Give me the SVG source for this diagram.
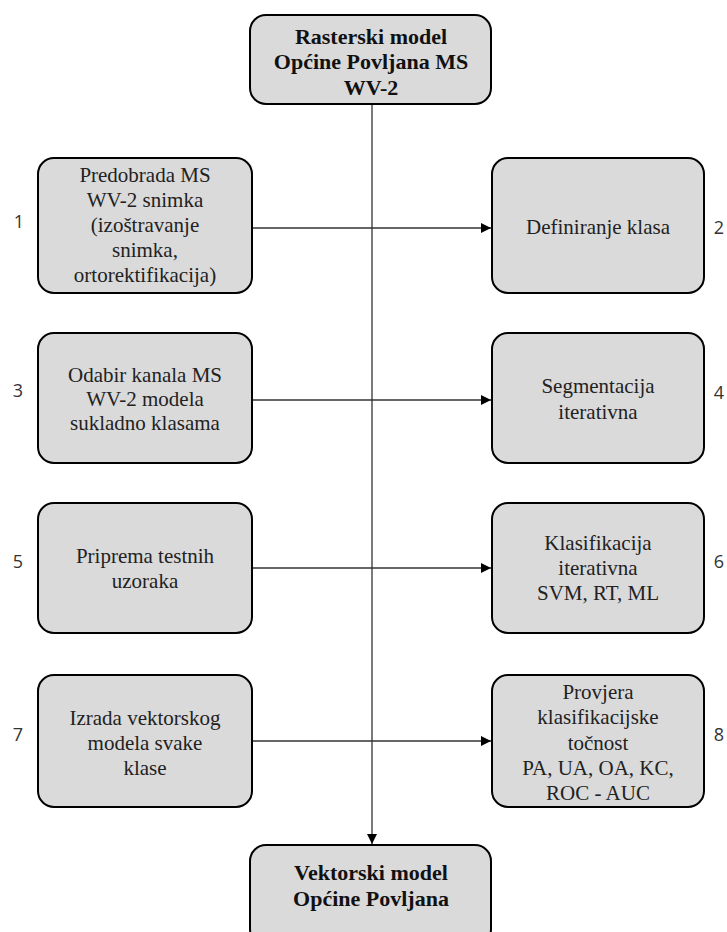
<svg xmlns="http://www.w3.org/2000/svg" width="727" height="932" viewBox="0 0 727 932">
<style>
.box{fill:#dadada;stroke:#000;stroke-width:2}
.t{font-family:"Liberation Serif","DejaVu Serif",serif;font-size:21px;fill:#222;text-anchor:middle}
.b{font-weight:bold;font-size:22px;fill:#111}
.n{font-family:"Open Sans","DejaVu Sans",sans-serif;font-size:18px;fill:#333;text-anchor:middle}
.c{stroke:#333;stroke-width:1.3;fill:none}
</style>
<defs>
<marker id="ah" viewBox="0 0 10 10" refX="10" refY="5" markerWidth="10" markerHeight="10" markerUnits="userSpaceOnUse" orient="auto">
<path d="M0,0 L10,5 L0,10 z" fill="#000"/>
</marker>
</defs>
<rect width="727" height="932" fill="#fff"/>
<g id="connectors">
<line class="c" x1="372" y1="104" x2="372" y2="844" marker-end="url(#ah)"/>
<line class="c" x1="252" y1="228" x2="491" y2="228" marker-end="url(#ah)"/>
<line class="c" x1="252" y1="400" x2="491" y2="400" marker-end="url(#ah)"/>
<line class="c" x1="252" y1="568" x2="491" y2="568" marker-end="url(#ah)"/>
<line class="c" x1="252" y1="741" x2="491" y2="741" marker-end="url(#ah)"/>
</g>
<g id="start">
<rect class="box" x="250" y="15" width="241" height="89" rx="16"/>
<text class="t b" x="371" y="44">Rasterski model</text>
<text class="t b" x="371" y="69">Općine Povljana MS</text>
<text class="t b" x="371" y="95">WV-2</text>
</g>
<g id="n1">
<rect class="box" x="38" y="158" width="214" height="135" rx="16"/>
<text class="t" x="145" y="182">Predobrada MS</text>
<text class="t" x="145" y="207">WV-2 snimka</text>
<text class="t" x="145" y="232">(izoštravanje</text>
<text class="t" x="145" y="257">snimka,</text>
<text class="t" x="145" y="282">ortorektifikacija)</text>
<text class="n" x="19" y="228">1</text>
</g>
<g id="n2">
<rect class="box" x="492" y="158" width="212" height="135" rx="16"/>
<text class="t" x="598" y="234">Definiranje klasa</text>
<text class="n" x="719" y="234">2</text>
</g>
<g id="n3">
<rect class="box" x="38" y="333" width="214" height="130" rx="16"/>
<text class="t" x="145" y="382">Odabir kanala MS</text>
<text class="t" x="145" y="406">WV-2 modela</text>
<text class="t" x="145" y="430">sukladno klasama</text>
<text class="n" x="18" y="397">3</text>
</g>
<g id="n4">
<rect class="box" x="492" y="333" width="212" height="130" rx="16"/>
<text class="t" x="598" y="393">Segmentacija</text>
<text class="t" x="598" y="419">iterativna</text>
<text class="n" x="719" y="399">4</text>
</g>
<g id="n5">
<rect class="box" x="38" y="503" width="214" height="130" rx="16"/>
<text class="t" x="145" y="563">Priprema testnih</text>
<text class="t" x="145" y="588">uzoraka</text>
<text class="n" x="18" y="568">5</text>
</g>
<g id="n6">
<rect class="box" x="492" y="503" width="212" height="130" rx="16"/>
<text class="t" x="598" y="550">Klasifikacija</text>
<text class="t" x="598" y="575">iterativna</text>
<text class="t" x="598" y="600">SVM, RT, ML</text>
<text class="n" x="719" y="568">6</text>
</g>
<g id="n7">
<rect class="box" x="38" y="675" width="214" height="132" rx="16"/>
<text class="t" x="145" y="725">Izrada vektorskog</text>
<text class="t" x="145" y="750">modela svake</text>
<text class="t" x="145" y="775">klase</text>
<text class="n" x="18" y="741">7</text>
</g>
<g id="n8">
<rect class="box" x="492" y="675" width="212" height="132" rx="16"/>
<text class="t" x="598" y="699">Provjera</text>
<text class="t" x="598" y="724">klasifikacijske</text>
<text class="t" x="598" y="750">točnost</text>
<text class="t" x="598" y="775">PA, UA, OA, KC,</text>
<text class="t" x="598" y="800">ROC - AUC</text>
<text class="n" x="719" y="741">8</text>
</g>
<g id="end">
<rect class="box" x="250" y="845" width="241" height="100" rx="16"/>
<text class="t b" x="371" y="880">Vektorski model</text>
<text class="t b" x="371" y="906">Općine Povljana</text>
</g>
</svg>
